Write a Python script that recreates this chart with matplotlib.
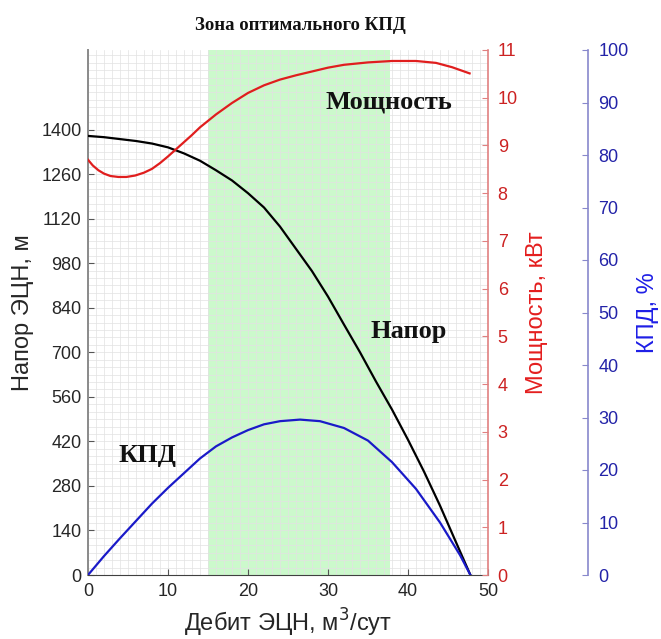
import matplotlib
matplotlib.use("Agg")
import matplotlib.pyplot as plt
from matplotlib.ticker import MultipleLocator, FixedLocator

plt.rcParams['font.family'] = ['Liberation Sans', 'DejaVu Sans']

# Head curve (m)
q_head = [0, 2, 4, 6, 8, 10, 12, 14, 16, 18, 20, 22, 24, 26, 28, 30, 32, 34, 36, 38, 40, 42,
          44, 46, 47.8]
head = [1380, 1376, 1370, 1364, 1356, 1344, 1325, 1302, 1272, 1240, 1200, 1155, 1095, 1025,
        955, 875, 787, 700, 608, 520, 425, 325, 218, 103, 0]

# Power curve (kW)
q_power = [0, 0.6, 1.3, 2, 2.8, 3.8, 4.8, 5.9, 7, 8, 9, 10, 11, 12, 13, 14, 16, 18, 20, 22,
           24, 26, 28, 30, 32, 35, 38, 41, 43.5, 45.5, 47.7]
power = [8.70, 8.58, 8.48, 8.41, 8.36, 8.34, 8.34, 8.37, 8.43, 8.51, 8.63, 8.77, 8.92, 9.07,
         9.22, 9.38, 9.65, 9.89, 10.10, 10.26, 10.38, 10.47, 10.55, 10.63, 10.69, 10.74,
         10.77, 10.77, 10.73, 10.64, 10.51]

# Efficiency curve (%)
q_eff = [0, 2, 4, 6, 8, 10, 12, 14, 16, 18, 20, 22, 24, 26.5, 29, 32, 35, 38, 41, 44, 46.5, 47.8]
eff = [0, 3.6, 7.0, 10.3, 13.6, 16.6, 19.4, 22.2, 24.5, 26.2, 27.6, 28.7, 29.3, 29.6, 29.3,
       28.0, 25.6, 21.5, 16.4, 10.0, 3.8, 0]

# Optimal efficiency zone (m3/day)
zone = [15, 37.8]

head_ticks = [0, 140, 280, 420, 560, 700, 840, 980, 1120, 1260, 1400]
power_ticks = list(range(0, 12))
eff_ticks = list(range(0, 101, 10))
q_ticks = [0, 10, 20, 30, 40, 50]

fig = plt.figure(figsize=(6.61, 6.39), dpi=100)
ax = fig.add_axes([88 / 661, 1 - 575 / 639, 400 / 661, 525 / 639])

serif = ['Liberation Serif', 'DejaVu Serif']
tick_fs = 13
label_fs = 17

ax.axvspan(zone[0], zone[1], color='#ccf9cc', lw=0, zorder=0.5)
ax.plot(q_head, head, color='black', lw=1.6, zorder=3)

ax.set_xlim(0, 50)
ax.set_ylim(0, 1650)
ax.xaxis.set_major_locator(FixedLocator(q_ticks))
ax.xaxis.set_minor_locator(MultipleLocator(1))
ax.yaxis.set_major_locator(FixedLocator(head_ticks))
ax.yaxis.set_minor_locator(MultipleLocator(140 / 6))
ax.grid(True, which='both', color='#e2e2e2', lw=0.5)
ax.tick_params(which='major', direction='in', length=4, labelsize=tick_fs, color='#555555',
               labelcolor='#262626')
ax.tick_params(axis='y', pad=4.5)
ax.tick_params(axis='x', pad=6)
ax.tick_params(which='minor', length=0)
for s in ('top', 'right'):
    ax.spines[s].set_visible(False)
ax.spines['left'].set_color('#8a8a8a')
ax.spines['left'].set_linewidth(1.4)
ax.spines['bottom'].set_color('#404040')
ax.set_xlabel('Дебит ЭЦН, м$^3$/сут', fontsize=label_fs, color='#262626')
ax.set_ylabel('Напор ЭЦН, м', fontsize=label_fs, color='#262626')
ax.xaxis.set_label_coords(0.5, -0.06)
ax.yaxis.set_label_coords(-0.135, 0.5)

# Power axis
red_spine = '#e08080'
axp = ax.twinx()
axp.plot(q_power, power, color='#e01e1e', lw=1.6, zorder=3)
axp.set_ylim(0, 11)
axp.yaxis.set_major_locator(FixedLocator(power_ticks))
axp.tick_params(direction='in', length=4, labelsize=tick_fs, color=red_spine,
                labelcolor='#cc2222', pad=7)
for s in ('top', 'left', 'bottom'):
    axp.spines[s].set_visible(False)
axp.spines['right'].set_color(red_spine)
axp.spines['right'].set_linewidth(1.2)
axp.set_ylabel('Мощность, кВт', fontsize=label_fs, color='#e41e1e')
axp.yaxis.set_label_coords(1.095, 0.5)

# Efficiency axis
blue_spine = '#8888cc'
axe = ax.twinx()
axe.plot(q_eff, eff, color='#1a1ac8', lw=1.6, zorder=3)
axe.set_ylim(0, 100)
axe.yaxis.set_major_locator(FixedLocator(eff_ticks))
axe.spines['right'].set_position(('axes', 1.25))
axe.tick_params(direction='in', length=4, labelsize=tick_fs, color=blue_spine,
                labelcolor='#2323a8', pad=7.5)
for s in ('top', 'left', 'bottom'):
    axe.spines[s].set_visible(False)
axe.spines['right'].set_color(blue_spine)
axe.spines['right'].set_linewidth(1.2)
axe.set_ylabel('КПД, %', fontsize=label_fs, color='#1e1ee6')
axe.yaxis.set_label_coords(1.372, 0.5)

# Curve names
ax.text(29.7, 1486, 'Мощность', family=serif, fontweight='bold', fontsize=19,
        va='center', ha='left', color='#111111', zorder=5)
ax.text(35.3, 764, 'Напор', family=serif, fontweight='bold', fontsize=19,
        va='center', ha='left', color='#111111', zorder=5)
ax.text(3.76, 377, 'КПД', family=serif, fontweight='bold', fontsize=19,
        va='center', ha='left', color='#111111', zorder=5)

fig.text(300 / 661, 1 - 25 / 639, 'Зона оптимального КПД', family=serif, fontweight='bold',
         fontsize=13.5, ha='center', va='center', color='#111111')

fig.savefig('out.png', dpi=100)
